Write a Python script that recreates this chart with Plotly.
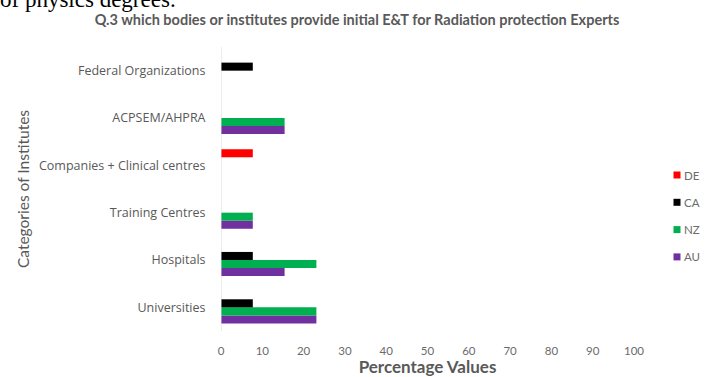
import plotly.graph_objects as go

categories = ["Universities", "Hospitals", "Training Centres",
              "Companies + Clinical centres", "ACPSEM/AHPRA", "Federal Organizations"]
au = [23.1, 15.4, 7.7, None, 15.4, None]
nz = [23.1, 23.1, 7.7, None, 15.4, None]
ca = [7.7, 7.7, None, None, None, 7.7]
de = [None, None, None, 7.7, None, None]
x_ticks = [0, 10, 20, 30, 40, 50, 60, 70, 80, 90, 100]

# drawn bottom-to-top inside each group
series = [("AU", au, "#7030a0"), ("NZ", nz, "#00b050"),
          ("CA", ca, "#000000"), ("DE", de, "#ff0000")]

fig = go.Figure()
for name, vals, color in series:
    fig.add_trace(go.Bar(y=categories, x=vals, name=name, orientation="h",
                         showlegend=False,
                         marker=dict(color=color, line=dict(width=0))))

grey = "#595959"
W, H = 708, 377
ml, mr, mt, mb = 221, 74, 47, 46
pw, ph = W - ml - mr, H - mt - mb

# hand-placed legend: small square keys with labels, top entry first
shapes = [dict(type="line", xref="x", yref="paper", x0=0, x1=0, y0=0, y1=1,
               line=dict(color="#d9d9d9", width=1))]
annotations = []
key_x = (677 - ml) / pw
for i, (name, _, color) in enumerate(reversed(series)):
    ky = (H - mb - (175 + 27.3 * i)) / ph
    shapes.append(dict(type="rect", xref="paper", yref="paper",
                       xsizemode="pixel", ysizemode="pixel",
                       xanchor=key_x, yanchor=ky, x0=-3.5, x1=3.5, y0=-3.5, y1=3.5,
                       fillcolor=color, line=dict(width=0)))
    annotations.append(dict(text=name, xref="paper", yref="paper", x=key_x, y=ky,
                            xanchor="left", yanchor="middle", xshift=5, showarrow=False,
                            font=dict(family="Lato", size=11.5, color="#6b6b6b")))

annotations.append(dict(text="of physics degrees.", xref="paper", yref="paper",
                        x=0, y=1, xanchor="left", yanchor="bottom",
                        xshift=-223, yshift=33, showarrow=False,
                        font=dict(family="Liberation Serif", size=23, color="black")))

fig.update_layout(
    width=W, height=H,
    margin=dict(l=ml, r=mr, t=mt, b=mb, autoexpand=False),
    paper_bgcolor="white", plot_bgcolor="white",
    barmode="group", bargap=0.32, bargroupgap=0,
    font=dict(family="Lato", color=grey, size=11),
    title=dict(text="<b>Q.3 which bodies or institutes provide initial E&T for Radiation protection Experts</b>",
               xref="container", yref="container",
               x=357 / W, xanchor="center", y=1 - 20 / H, yanchor="middle",
               font=dict(family="Lato", size=14.5, color=grey)),
    xaxis=dict(range=[0, 100], tickvals=x_ticks, showgrid=False, zeroline=False,
               ticks="outside", ticklen=9, tickcolor="rgba(0,0,0,0)",
               tickfont=dict(family="Lato", size=11.5, color="#6b6b6b"),
               title=dict(text="<b>Percentage Values</b>",
                          font=dict(family="Lato", size=17, color=grey), standoff=5)),
    yaxis=dict(showgrid=False, ticks="outside", ticklen=12, tickcolor="rgba(0,0,0,0)",
               tickfont=dict(family="Open Sans", size=12.5, color=grey), showline=False,
               title=dict(text="Categories of Institutes",
                          font=dict(family="Lato", size=15.5, color=grey), standoff=5)),
    shapes=shapes,
    annotations=annotations,
)

fig.write_html("out.html")
